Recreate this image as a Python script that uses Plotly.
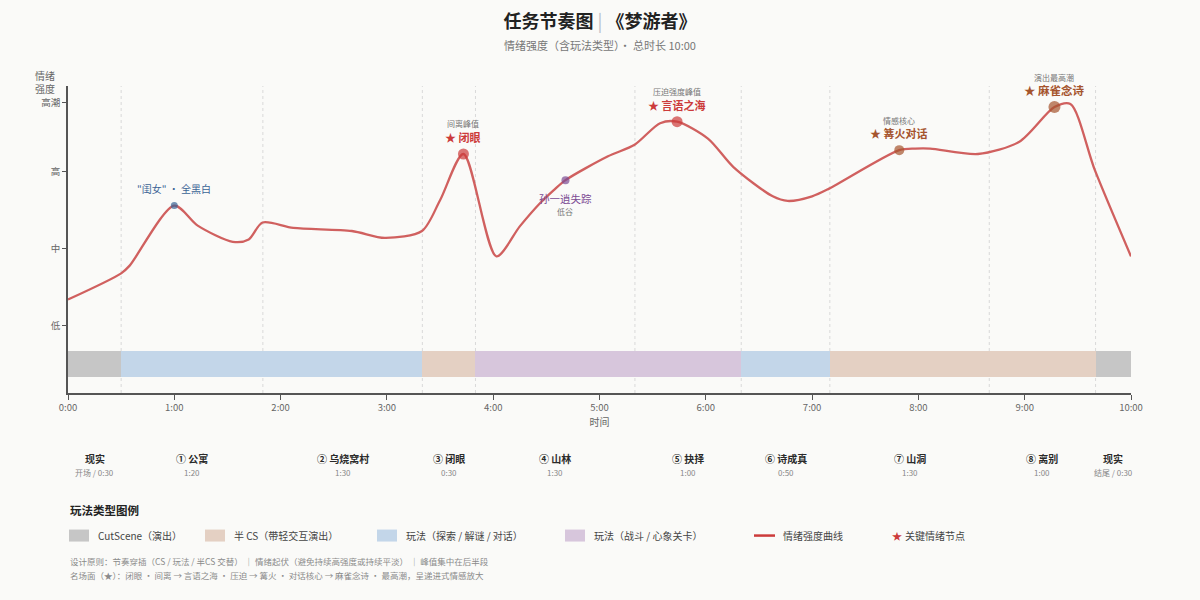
import plotly.graph_objects as go

# ---------------- data ----------------
seg_names = ["现实", "① 公寓", "② 乌烧窝村", "③ 闭眼", "④ 山林", "⑤ 抉择", "⑥ 诗成真", "⑦ 山洞", "⑧ 离别", "现实"]
seg_notes = ["开场 / 0:30", "1:20", "1:30", "0:30", "1:30", "1:00", "0:50", "1:30", "1:00", "结尾 / 0:30"]
seg_seconds = [30, 80, 90, 30, 90, 60, 50, 90, 60, 30]
seg_types = ["cs", "play", "play", "semi", "fight", "fight", "play", "semi", "semi", "cs"]

total_minutes = 10
x_ticks = [0, 1, 2, 3, 4, 5, 6, 7, 8, 9, 10]
x_ticktext = ["0:00", "1:00", "2:00", "3:00", "4:00", "5:00", "6:00", "7:00", "8:00", "9:00", "10:00"]
y_tickvals = [1, 2, 3, 3.9]
y_ticktext = ["低", "中", "高", "高潮"]

# emotional intensity curve (minutes, intensity)
curve_t = [0.00, 0.50, 0.58, 1.00, 1.22, 1.55, 1.70, 1.83, 2.12, 2.67, 2.98, 3.33, 3.50, 3.72,
           4.03, 4.25, 4.44, 4.57, 4.68, 5.08, 5.33, 5.57, 5.73, 6.02, 6.26, 6.63, 6.77, 7.00,
           7.16, 7.82, 7.97, 8.11, 8.56, 8.95, 9.28, 9.43, 9.66, 10.00]
curve_v = [1.34, 1.68, 1.78, 2.56, 2.30, 2.09, 2.12, 2.34, 2.27, 2.23, 2.14, 2.23, 2.63, 3.23,
           1.90, 2.29, 2.59, 2.76, 2.89, 3.20, 3.35, 3.63, 3.65, 3.43, 3.06, 2.68, 2.62, 2.68,
           2.78, 3.28, 3.30, 3.30, 3.23, 3.39, 3.84, 3.88, 3.02, 1.90]

# key emotional nodes
key_t = [1.00, 3.72, 4.68, 5.73, 7.82, 9.28]
key_v = [2.56, 3.23, 2.89, 3.65, 3.28, 3.84]
key_title = ['"闺女" · 全黑白', "★ 闭眼", "孙一逍失踪", "★ 言语之海", "★ 篝火对话", "★ 麻雀念诗"]
key_note = ["", "间离峰值", "低谷", "压迫强度峰值", "情感核心", "演出最高潮"]

legend_keys = ["cs", "semi", "play", "fight"]
legend_labels = ["CutScene（演出）", "半 CS（带轻交互演出）", "玩法（探索 / 解谜 / 对话）", "玩法（战斗 / 心象关卡）"]

footer_lines = [
    "设计原则：节奏穿插（CS / 玩法 / 半CS 交替） ｜ 情绪起伏（避免持续高强度或持续平淡） ｜ 峰值集中在后半段",
    "名场面（★）：闭眼 · 间离 → 言语之海 · 压迫 → 篝火 · 对话核心 → 麻雀念诗 · 最高潮，呈递进式情感放大",
]

# ---------------- styles ----------------
FONT = "Noto Sans CJK SC, Noto Sans, sans-serif"
BG = "#fafaf8"
type_colors = {"cs": "#c6c6c6", "semi": "#e4d0c3", "play": "#c3d6e9", "fight": "#d7c6dc"}
curve_color = "#d0605f"
key_colors = ["#3b6496", "#cc3b3b", "#7b4a93", "#cc3b3b", "#a5542d", "#a5542d"]
key_sizes = [7, 11, 8, 11, 10, 12]
key_above = [True, True, False, True, True, True]
key_title_size = [10, 11, 10.5, 11, 11, 11.5]
key_bold = [False, True, False, True, True, True]

PL, PR, PT, PB = 68, 1131, 86, 393.3


def pxx(px):
    return (px - PL) / (PR - PL)


def pxy(py):
    return (PB - py) / (PB - PT)


def txt(**kw):
    d = dict(showarrow=False, yanchor="middle")
    d.update(kw)
    return d


# segment geometry derived from durations
starts = []
acc = 0
for s in seg_seconds:
    starts.append(acc / 60)
    acc += s
ends = [min(st + s / 60, total_minutes) for st, s in zip(starts, seg_seconds)]
durs = [e - st for st, e in zip(starts, ends)]
mids = [(st + e) / 2 for st, e in zip(starts, ends)]

fig = go.Figure()

fig.add_trace(go.Bar(
    orientation="h", y=[0.5] * len(starts), x=durs, base=starts, width=0.34,
    marker=dict(color=[type_colors[t] for t in seg_types], line=dict(width=0)),
    hoverinfo="skip", showlegend=False,
))

fig.add_trace(go.Scatter(
    x=curve_t, y=curve_v, mode="lines",
    line=dict(color=curve_color, width=2.3, shape="spline", smoothing=0.8),
    hoverinfo="skip", showlegend=False,
))

fig.add_trace(go.Scatter(
    x=key_t, y=key_v, mode="markers",
    marker=dict(color=key_colors, size=key_sizes, line=dict(width=0)),
    hoverinfo="skip", showlegend=False,
))

shapes = []
for b in starts[1:]:
    if 0 < b < total_minutes:
        shapes.append(dict(type="line", xref="x", yref="paper", x0=b, x1=b, y0=0, y1=1,
                           line=dict(color="#d9d9d9", width=1, dash="dot"), layer="below"))

annotations = []
# key node labels
for i in range(len(key_t)):
    c = key_colors[i]
    title = "<b>%s</b>" % key_title[i] if key_bold[i] else key_title[i]
    tf = dict(size=key_title_size[i], color=c, family=FONT)
    nf = dict(size=8, color="#777", family=FONT)
    if key_above[i]:
        if key_note[i]:
            annotations.append(txt(x=key_t[i], y=key_v[i], xref="x", yref="y", text=key_note[i],
                                   yshift=30, font=nf))
        annotations.append(txt(x=key_t[i], y=key_v[i], xref="x", yref="y", text=title,
                               yshift=17, font=tf))
    else:
        annotations.append(txt(x=key_t[i], y=key_v[i], xref="x", yref="y", text=title,
                               yshift=-18, font=tf))
        annotations.append(txt(x=key_t[i], y=key_v[i], xref="x", yref="y", text=key_note[i],
                               yshift=-31, font=nf))

# segment labels under axis
for i in range(len(seg_names)):
    annotations.append(txt(x=mids[i], xref="x", y=pxy(459), yref="paper", text="<b>%s</b>" % seg_names[i],
                           xanchor="center", font=dict(size=10, color="#2a2a2a", family=FONT)))
    annotations.append(txt(x=mids[i], xref="x", y=pxy(472.5), yref="paper", text=seg_notes[i],
                           xanchor="center", font=dict(size=8, color="#888", family=FONT)))

# subtitle
annotations.append(txt(x=0.5, xref="paper", y=pxy(45), yref="paper", xanchor="center",
                       text="情绪强度（含玩法类型）· 总时长 10:00",
                       font=dict(size=11, color="#777", family=FONT)))
# y-axis title
annotations.append(txt(x=pxx(33), xref="paper", y=pxy(82), yref="paper", xanchor="left",
                       text="情绪<br>强度", align="left",
                       font=dict(size=10, color="#666", family=FONT)))

# legend block
annotations.append(txt(x=pxx(68), xref="paper", y=pxy(510), yref="paper", xanchor="left",
                       text="<b>玩法类型图例</b>",
                       font=dict(size=11.5, color="#222", family=FONT)))
sw_x = [69, 205, 377, 565]
for k, lab, sx in zip(legend_keys, legend_labels, sw_x):
    shapes.append(dict(type="rect", xref="paper", yref="paper", x0=pxx(sx), x1=pxx(sx + 20),
                       y0=pxy(542), y1=pxy(530), fillcolor=type_colors[k], line=dict(width=0)))
    annotations.append(txt(x=pxx(sx + 27), xref="paper", y=pxy(536), yref="paper", xanchor="left",
                           text=lab, font=dict(size=10, color="#444", family=FONT)))
shapes.append(dict(type="line", xref="paper", yref="paper", x0=pxx(754), x1=pxx(775),
                   y0=pxy(536), y1=pxy(536), line=dict(color="#cc3b3b", width=2.5)))
annotations.append(txt(x=pxx(781), xref="paper", y=pxy(536), yref="paper", xanchor="left",
                       text="情绪强度曲线", font=dict(size=10, color="#444", family=FONT)))
annotations.append(txt(x=pxx(897), xref="paper", y=pxy(536), yref="paper", xanchor="center",
                       text="★", font=dict(size=10, color="#cc3b3b", family=FONT)))
annotations.append(txt(x=pxx(903), xref="paper", y=pxy(536), yref="paper", xanchor="left",
                       text="关键情绪节点", font=dict(size=10, color="#444", family=FONT)))

# footer
for j, line in enumerate(footer_lines):
    annotations.append(txt(x=pxx(68), xref="paper", y=pxy(561 + 14 * j), yref="paper", xanchor="left",
                           text=line, font=dict(size=8.5, color="#8a8a8a", family=FONT)))

fig.update_layout(
    width=1200, height=600,
    margin=dict(l=PL, r=1200 - PR, t=PT, b=600 - PB),
    paper_bgcolor=BG, plot_bgcolor=BG,
    font=dict(family=FONT, color="#555"),
    title=dict(text="<b>任务节奏图</b> <span style='color:#b8c0c8'>|</span> <b>《梦游者》</b>",
               x=0.5, xanchor="center", y=1 - 22 / 600, yanchor="middle",
               font=dict(size=18, color="#222", family=FONT)),
    xaxis=dict(range=[0, total_minutes], tickvals=x_ticks, ticktext=x_ticktext,
               showline=True, linecolor="#555", linewidth=1.5, ticks="outside", ticklen=5,
               tickcolor="#555", showgrid=False, zeroline=False,
               tickfont=dict(size=9.5, color="#666", family=FONT),
               title=dict(text="时间", font=dict(size=10, color="#666", family=FONT), standoff=6)),
    yaxis=dict(range=[0.126, 4.113], tickvals=y_tickvals, ticktext=y_ticktext,
               showline=True, linecolor="#555", linewidth=1.5, ticks="outside", ticklen=4,
               tickcolor="#555", showgrid=False, zeroline=False,
               tickfont=dict(size=9.5, color="#666", family=FONT)),
    shapes=shapes, annotations=annotations,
    bargap=0, showlegend=False,
)

fig.write_html("out.html")
